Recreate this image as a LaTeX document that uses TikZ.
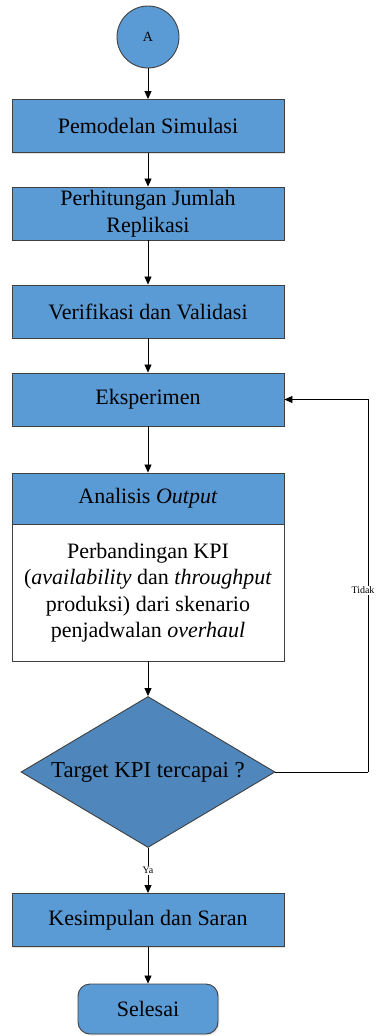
\documentclass[tikz,border=0pt]{standalone}
\usepackage{fontspec}
\setmainfont{Liberation Serif}
\usetikzlibrary{arrows.meta,shapes.geometric,shadows}
\definecolor{boxblue}{HTML}{5B9BD5}
\definecolor{diablue}{HTML}{4F87BC}
\definecolor{edgegray}{HTML}{404040}

\begin{document}
\begin{tikzpicture}[x=1pt,y=-1pt,
  txt/.style={font=\fontsize{22}{26.5}\selectfont},
  base/.style={draw=edgegray, line width=0.9pt, inner sep=0pt, align=center, txt,
    drop shadow={shadow xshift=1.4pt, shadow yshift=-1.4pt, opacity=0.22}},
  procbox/.style={base, rectangle, fill=boxblue, minimum width=272pt, minimum height=53pt},
  notebox/.style={base, rectangle, fill=white, minimum width=272pt},
  decision/.style={diamond, draw=edgegray, line width=0.9pt, fill=diablue, inner sep=0pt,
    shape aspect=1.68, minimum width=254pt, minimum height=151pt,
    font=\fontsize{22.8}{27}\selectfont},
  connector/.style={draw=edgegray, fill=boxblue, line width=0.9pt, circle,
    minimum size=62pt, inner sep=0pt, font=\fontsize{14}{16}\selectfont},
  terminal/.style={base, rectangle, fill=boxblue, rounded corners=12pt,
    minimum width=140pt, minimum height=50pt},
  arr/.style={draw=black, line width=0.8pt, -{Triangle[length=8pt,width=7pt]}},
  flow/.style={draw=black, line width=0.8pt},
  lab/.style={font=\fontsize{10}{12}\selectfont, fill=white, inner sep=1pt}
]
\useasboundingbox (0,0) rectangle (376,1036);

% process chain
\node[connector] (start) at (148,37) {A};
\node[procbox] (p1) at (148,126) {Pemodelan Simulasi};
\node[procbox] (p2) at (148,213.5) {Perhitungan Jumlah\\Replikasi};
\node[procbox] (p3) at (148,311.5) {Verifikasi dan Validasi};
\node[procbox] (p4) at (148,399.5) {Eksperimen};

% output analysis with its description
\node[procbox, minimum height=51pt] (ah) at (148,498.5) {Analisis \textit{Output}};
\node[notebox, minimum height=137pt] (ab) at (148,592.5)
  {Perbandingan KPI\\(\textit{availability} dan \textit{throughput}\\produksi) dari skenario\\penjadwalan \textit{overhaul}};

% decision and end
\node[decision] (dec) at (148,772) {Target KPI tercapai ?};
\node[procbox] (p5) at (148,920) {Kesimpulan dan Saran};
\node[terminal] (fin) at (148,1009) {Selesai};

% loop-back route
\coordinate (fb1) at (368,772);
\coordinate (fb2) at (368,399.5);

\draw[arr] (start) -- (p1);
\draw[arr] (p1) -- (p2);
\draw[arr] (p2) -- (p3);
\draw[arr] (p3) -- (p4);
\draw[arr] (p4) -- (ah);
\draw[arr] (ab) -- (dec);
\draw[arr] (dec) -- node[lab] {Ya} (p5);
\draw[arr] (p5) -- (fin);
\draw[flow] (dec.east) -- (fb1);
\draw[arr] (fb1) -- node[lab, pos=0.488, xshift=-5pt] {Tidak} (fb2) -- (p4.east);
\end{tikzpicture}
\end{document}
